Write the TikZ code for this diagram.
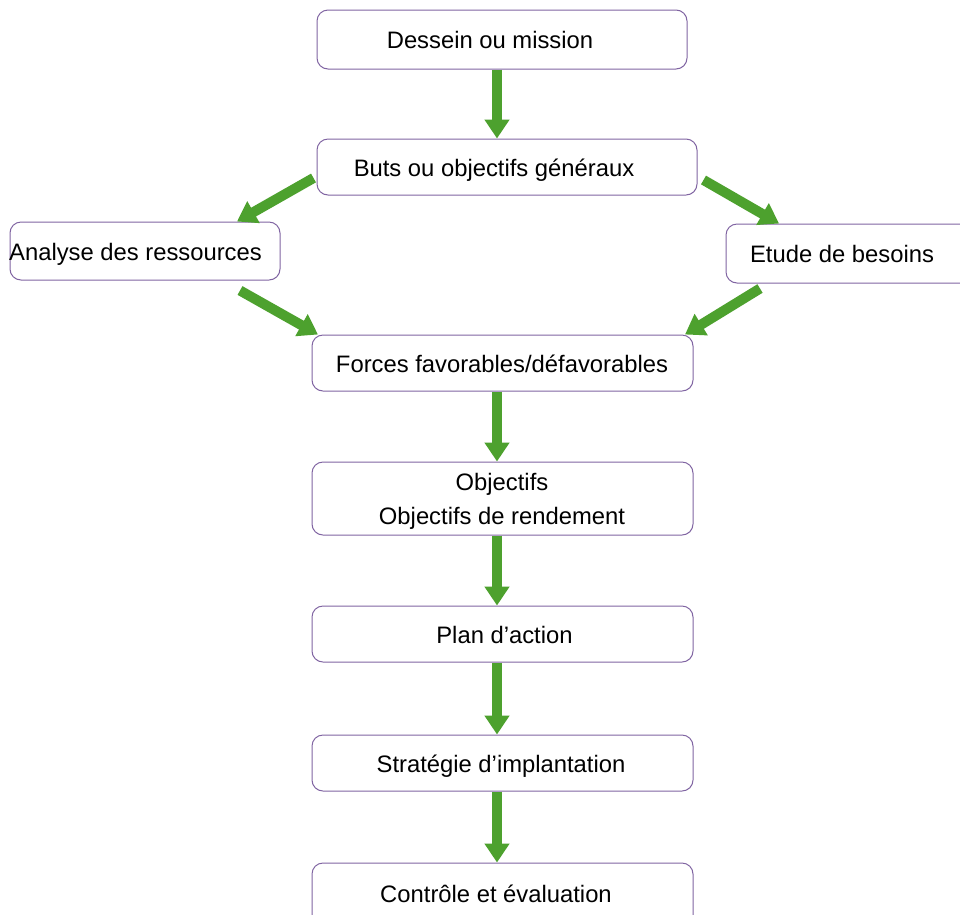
\documentclass[tikz,border=0pt]{standalone}
\usepackage{fontspec}
\setmainfont{Liberation Sans}
\usetikzlibrary{arrows.meta}
\definecolor{boxline}{RGB}{128,100,162}
\definecolor{arrgreen}{RGB}{77,161,46}
\tikzset{
  box/.style={draw=boxline, line width=1pt, rounded corners=11pt, fill=white, inner sep=0pt},
  txt/.style={anchor=base, inner sep=0pt, font=\fontsize{23.8}{28}\selectfont},
  arr/.style={draw=arrgreen, line width=10pt, -{Triangle[width=24pt,length=19pt]}}
}
\begin{document}
\begin{tikzpicture}[x=1pt,y=-1pt]
\fill[white] (0,0) rectangle (960,914);
\clip (0,0) rectangle (960,914);
% boxes
\node[box, minimum width=370pt, minimum height=59pt] (b1) at (502,39.5) {};
\node[box, minimum width=380pt, minimum height=56pt] (b2) at (507,167) {};
\node[box, minimum width=270pt, minimum height=58pt] (b3) at (145,251) {};
\node[box, minimum width=250pt, minimum height=59pt] (b4) at (851,253.5) {};
\node[box, minimum width=381pt, minimum height=56pt] (b5) at (502.5,363) {};
\node[box, minimum width=381pt, minimum height=73pt] (b6) at (502.5,498.5) {};
\node[box, minimum width=381pt, minimum height=56pt] (b7) at (502.5,634) {};
\node[box, minimum width=381pt, minimum height=56pt] (b8) at (502.5,763) {};
\node[box, minimum width=381pt, minimum height=70pt] (b9) at (502.5,898) {};
% texts
\node[txt] (t1) at (490,48) {Dessein ou mission};
\node[txt] (t2) at (494,176) {Buts ou objectifs généraux};
\node[txt] (t3) at (135.5,260) {Analyse des ressources};
\node[txt] (t4) at (842,262) {Etude de besoins};
\node[txt] (t5) at (502,372) {Forces favorables/défavorables};
\node[txt] (t6a) at (502,490) {Objectifs};
\node[txt] (t6b) at (502,524) {Objectifs de rendement};
\node[txt] (t7) at (504.5,643) {Plan d’action};
\node[txt] (t8) at (501,772) {Stratégie d’implantation};
\node[txt] (t9) at (496,902) {Contrôle et évaluation};
% arrows
\draw[arr] ([shift={(-5,0)}]b1.south) -- ([shift={(-10,0)}]b2.north);
\draw[arr] ([shift={(-3,11)}]b2.west) -- ([shift={(92,0)}]b3.north);
\draw[arr] ([shift={(6,13)}]b2.east) -- ([shift={(-72,0)}]b4.north);
\draw[arr] ([shift={(95,10)}]b3.south) -- ([shift={(-184.5,0)}]b5.north);
\draw[arr] ([shift={(-91,5)}]b4.south) -- ([shift={(182.5,0)}]b5.north);
\draw[arr] ([shift={(-5.5,0)}]b5.south) -- ([shift={(-5.5,0)}]b6.north);
\draw[arr] ([shift={(-5.5,0)}]b6.south) -- ([shift={(-5.5,0)}]b7.north);
\draw[arr] ([shift={(-5.5,0)}]b7.south) -- ([shift={(-5.5,0)}]b8.north);
\draw[arr] ([shift={(-5.5,0)}]b8.south) -- ([shift={(-5.5,0)}]b9.north);
\end{tikzpicture}
\end{document}
